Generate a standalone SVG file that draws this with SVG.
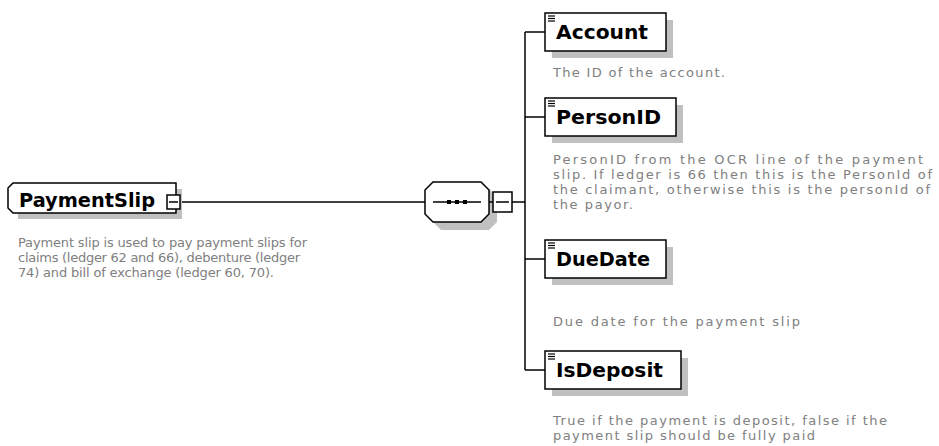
<svg xmlns="http://www.w3.org/2000/svg" width="939" height="446" viewBox="0 0 939 446">
<style>
.shadow{fill:#c0c0c0;stroke:none}
.box{fill:#ffffff;stroke:#000000;stroke-width:1.5}
.line{fill:none;stroke:#000000;stroke-width:1.5}
.title{font-family:"DejaVu Sans",Verdana,sans-serif;font-weight:bold;font-size:19px;fill:#000000}
.desc{font-family:"DejaVu Sans",Verdana,sans-serif;font-size:13px;fill:#808080}
.icon{stroke:#000000;stroke-width:1.2}
</style>
<defs>
<g id="ico"><line class="icon" x1="0" y1="0" x2="7" y2="0"/><line class="icon" x1="0" y1="2.5" x2="7" y2="2.5"/><line class="icon" x1="0" y1="5" x2="7" y2="5"/></g>
</defs>
<rect width="939" height="446" fill="#ffffff"/>
<g id="connectors">
<line class="line" x1="180" y1="202" x2="425" y2="202"/>
<line class="line" x1="512" y1="202" x2="525" y2="202"/>
<line class="line" x1="525" y1="32" x2="525" y2="370"/>
<line class="line" x1="525" y1="32" x2="545" y2="32"/>
<line class="line" x1="525" y1="117" x2="545" y2="117"/>
<line class="line" x1="525" y1="259" x2="545" y2="259"/>
<line class="line" x1="525" y1="370" x2="545" y2="370"/>
</g>
<g id="PaymentSlip">
<path class="shadow" d="M18,189 H182 V219 H18 Z"/>
<path class="box" d="M13,183 H176 V213 H13 L8,208 V188 Z"/>
<text class="title" x="19" y="207" textLength="136" lengthAdjust="spacingAndGlyphs">PaymentSlip</text>
<rect class="box" x="167" y="195" width="13" height="14"/>
<line class="line" x1="169" y1="202" x2="178" y2="202"/>
<text class="desc" x="18" y="247" textLength="289" lengthAdjust="spacing">Payment slip is used to pay payment slips for</text>
<text class="desc" x="18" y="262" textLength="282" lengthAdjust="spacing">claims (ledger 62 and 66), debenture (ledger</text>
<text class="desc" x="18" y="277" textLength="256" lengthAdjust="spacing">74) and bill of exchange (ledger 60, 70).</text>
</g>
<g id="sequence">
<path class="shadow" d="M441,189 H489 L497,197 V222 L489,230 H441 L433,222 V197 Z"/>
<path class="box" d="M433,182 H481 L489,190 V214 L481,222 H433 L425,214 V190 Z"/>
<line class="line" x1="433" y1="202" x2="481" y2="202"/>
<rect x="447" y="200" width="4" height="4" fill="#000"/>
<rect x="455" y="200" width="4" height="4" fill="#000"/>
<rect x="463" y="200" width="4" height="4" fill="#000"/>
<line class="line" x1="489" y1="202" x2="493" y2="202"/>
<rect class="box" x="493" y="192" width="19" height="20"/>
<line class="line" x1="496" y1="202" x2="509" y2="202"/>
</g>
<g id="Account">
<rect class="shadow" x="552" y="20" width="121" height="38"/>
<rect class="box" x="545" y="13" width="121" height="38"/>
<use href="#ico" x="548" y="16"/>
<text class="title" x="556" y="39" textLength="92" lengthAdjust="spacingAndGlyphs">Account</text>
<text class="desc" x="553" y="77" textLength="172" lengthAdjust="spacing">The ID of the account.</text>
</g>
<g id="PersonID">
<rect class="shadow" x="552" y="105" width="131" height="38"/>
<rect class="box" x="545" y="98" width="131" height="38"/>
<use href="#ico" x="548" y="101"/>
<text class="title" x="556" y="124" textLength="105" lengthAdjust="spacingAndGlyphs">PersonID</text>
<text class="desc" x="553" y="164" textLength="370" lengthAdjust="spacing">PersonID from the OCR line of the payment</text>
<text class="desc" x="553" y="179" textLength="379" lengthAdjust="spacing">slip. If ledger is 66 then this is the PersonId of</text>
<text class="desc" x="553" y="194" textLength="377" lengthAdjust="spacing">the claimant, otherwise this is the personId of</text>
<text class="desc" x="553" y="209" textLength="80" lengthAdjust="spacing">the payor.</text>
</g>
<g id="DueDate">
<rect class="shadow" x="552" y="247" width="121" height="38"/>
<rect class="box" x="545" y="240" width="121" height="38"/>
<use href="#ico" x="548" y="243"/>
<text class="title" x="556" y="266" textLength="94" lengthAdjust="spacingAndGlyphs">DueDate</text>
<text class="desc" x="553" y="326" textLength="247" lengthAdjust="spacing">Due date for the payment slip</text>
</g>
<g id="IsDeposit">
<rect class="shadow" x="552" y="358" width="136" height="38"/>
<rect class="box" x="545" y="351" width="136" height="38"/>
<use href="#ico" x="548" y="354"/>
<text class="title" x="556" y="377" textLength="107" lengthAdjust="spacingAndGlyphs">IsDeposit</text>
<text class="desc" x="553" y="425" textLength="334" lengthAdjust="spacing">True if the payment is deposit, false if the</text>
<text class="desc" x="553" y="440" textLength="262" lengthAdjust="spacing">payment slip should be fully paid</text>
</g>
</svg>
